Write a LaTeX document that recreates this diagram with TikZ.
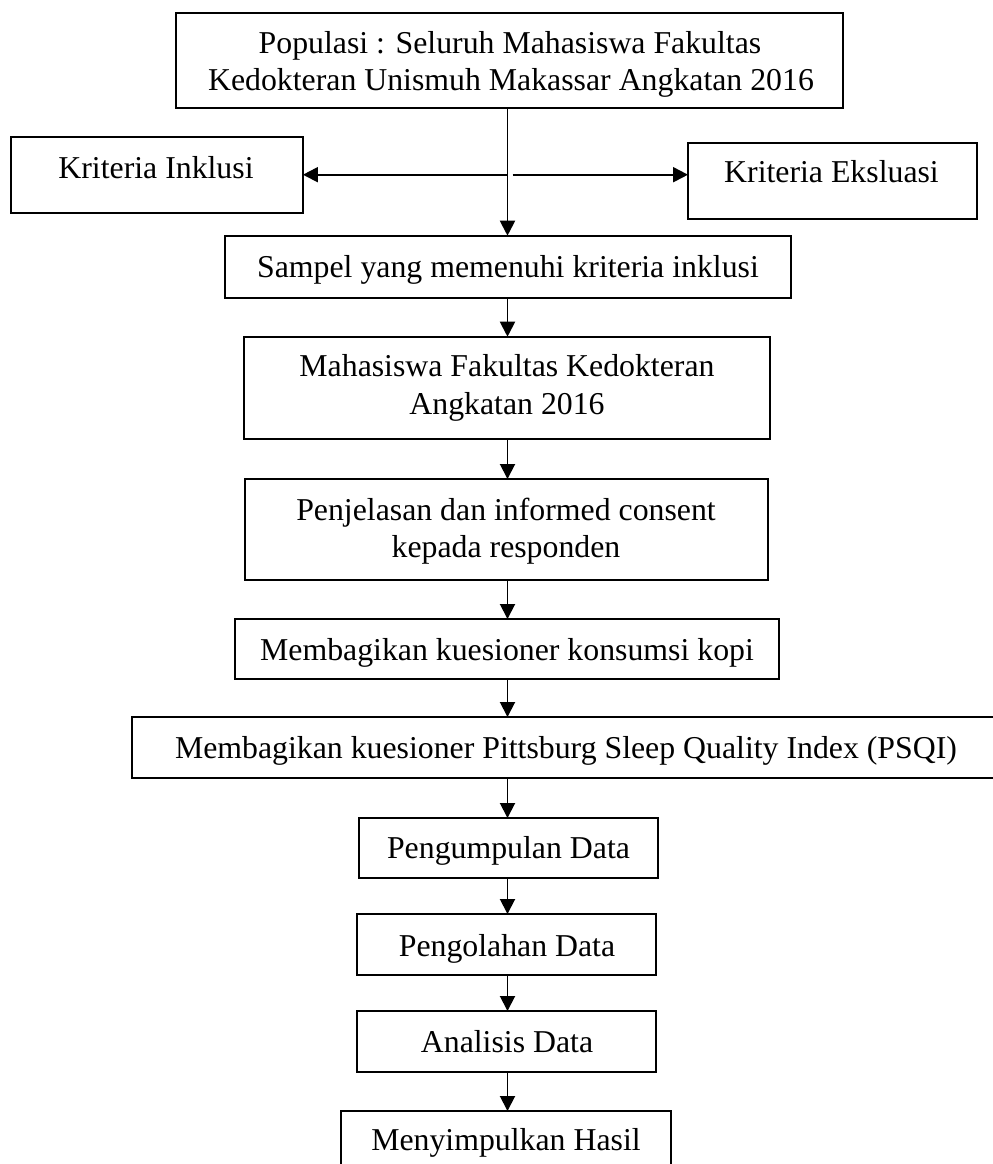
\documentclass[tikz,border=0pt]{standalone}
\usepackage{fontspec}
\setmainfont{Liberation Serif}
\usetikzlibrary{arrows.meta}
\begin{document}
\begin{tikzpicture}[x=0.02cm,y=-0.02cm,
  box/.style={draw, line width=0.95pt, rectangle, inner sep=0pt, outer sep=0pt},
  lbl/.style={anchor=base, inner sep=0pt, font=\fontsize{18.1}{22}\selectfont},
  arr/.style={line width=1.1pt, -{Triangle[length=0.3cm,width=0.3cm]}}]
\useasboundingbox (0,0) rectangle (992,1164);
% boxes
\node[box, minimum width=13.34cm, minimum height=1.90cm] (top) at (509.5,60.2) {};
\node[box, minimum width=5.846cm, minimum height=1.52cm] (inkl) at (156.8,174.7) {};
\node[box, minimum width=5.78cm, minimum height=1.52cm] (eks) at (832.5,181) {};
\node[box, minimum width=11.32cm, minimum height=1.24cm] (sampel) at (508,266.7) {};
\node[box, minimum width=10.52cm, minimum height=2.046cm] (mhs) at (507,387.85) {};
\node[box, minimum width=10.46cm, minimum height=2.02cm] (pjl) at (506.5,529.5) {};
\node[box, minimum width=10.88cm, minimum height=1.20cm] (kopi) at (507,649) {};
\node[box, minimum width=17.26cm, minimum height=1.22cm] (psqi) at (563.5,747.5) {};
\node[box, minimum width=5.98cm, minimum height=1.20cm] (kumpul) at (508.5,848) {};
\node[box, minimum width=5.98cm, minimum height=1.22cm] (olah) at (506.5,944.5) {};
\node[box, minimum width=5.98cm, minimum height=1.22cm] (analisis) at (506.5,1041.5) {};
\node[box, minimum width=6.60cm, minimum height=1.22cm] (simpul) at (506,1141.5) {};
% texts
\node[lbl] (top1) at (510,53) {Populasi : Seluruh Mahasiswa Fakultas};
\node[lbl] (top2) at (511,90) {Kedokteran Unismuh Makassar Angkatan 2016};
\node[lbl] (inklT) at (156,178) {Kriteria Inklusi};
\node[lbl] (eksT) at (831.5,182.7) {Kriteria Eksluasi};
\node[lbl] (sampelT) at (508,277) {Sampel yang memenuhi kriteria inklusi};
\node[lbl] (mhs1) at (507,376.7) {Mahasiswa Fakultas Kedokteran};
\node[lbl] (mhs2) at (507,414.3) {Angkatan 2016};
\node[lbl] (pjl1) at (506,520) {Penjelasan dan informed consent};
\node[lbl] (pjl2) at (506,557) {kepada responden};
\node[lbl] (kopiT) at (507,660) {Membagikan kuesioner konsumsi kopi};
\node[lbl] (psqiT) at (566,758) {Membagikan kuesioner Pittsburg Sleep Quality Index (PSQI)};
\node[lbl] (kumpulT) at (508.5,858) {Pengumpulan Data};
\node[lbl] (olahT) at (507,956) {Pengolahan Data};
\node[lbl] (analisisT) at (507,1052) {Analisis Data};
\node[lbl] (simpulT) at (506,1150.7) {Menyimpulkan Hasil};
% connectors
\coordinate (axis) at (507.5,0);
\coordinate (hub) at (axis |- inkl.east);
\draw[arr] (top.south -| axis) -- (sampel.north -| axis);
\draw[arr] (hub) -- (inkl.east);
\draw[arr] ([xshift=0.1cm]hub) -- (eks.west |- hub);
\draw[arr] (sampel.south -| axis) -- (mhs.north -| axis);
\draw[arr] (mhs.south -| axis) -- (pjl.north -| axis);
\draw[arr] (pjl.south -| axis) -- (kopi.north -| axis);
\draw[arr] (kopi.south -| axis) -- (psqi.north -| axis);
\draw[arr] (psqi.south -| axis) -- (kumpul.north -| axis);
\draw[arr] (kumpul.south -| axis) -- (olah.north -| axis);
\draw[arr] (olah.south -| axis) -- (analisis.north -| axis);
\draw[arr] (analisis.south -| axis) -- (simpul.north -| axis);
\end{tikzpicture}
\end{document}
